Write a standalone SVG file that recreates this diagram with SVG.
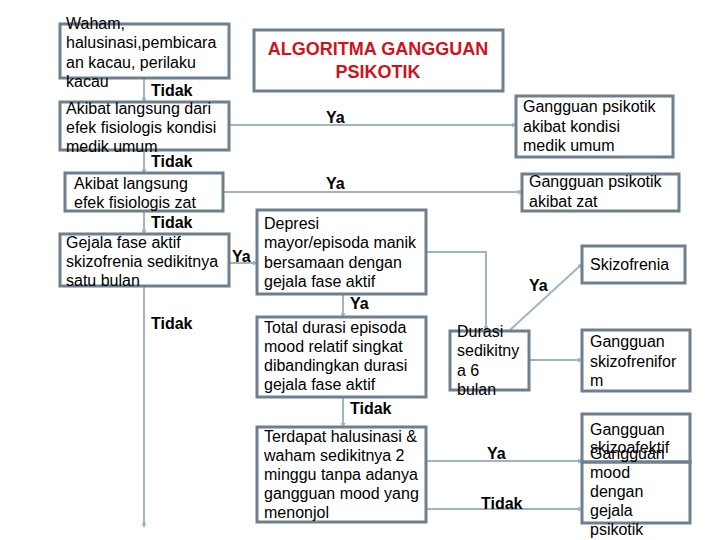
<svg xmlns="http://www.w3.org/2000/svg" width="720" height="540" viewBox="0 0 720 540">
<style>
.box{fill:#fff;stroke:#6f7f8c;stroke-width:3}
.t{font-family:"Liberation Sans",Arial,sans-serif;font-size:16px;fill:#000}
.lb{font-family:"Liberation Sans",Arial,sans-serif;font-size:16px;font-weight:bold;fill:#000}
.ttl{font-family:"Liberation Sans",Arial,sans-serif;font-size:18px;font-weight:bold;fill:#d0121b;text-anchor:middle}
.c{fill:none;stroke:#a0b4c6;stroke-width:2;marker-end:url(#ah)}
</style>
<defs>
<marker id="ah" markerWidth="5" markerHeight="5" refX="4" refY="2.5" orient="auto" markerUnits="userSpaceOnUse">
<path d="M0,0 L5,2.5 L0,5 Z" fill="#a0b4c6"/>
</marker>
</defs>
<rect width="720" height="540" fill="#fff"/>

<g id="connectors">
<line class="c" x1="144" y1="78" x2="144" y2="102"/>
<line class="c" x1="144" y1="150" x2="144" y2="173"/>
<line class="c" x1="144" y1="211" x2="144" y2="234"/>
<line class="c" x1="144" y1="286" x2="144" y2="527"/>
<line class="c" x1="229" y1="263" x2="257" y2="263"/>
<line class="c" x1="229" y1="125" x2="516" y2="125"/>
<line class="c" x1="223" y1="192" x2="522" y2="192"/>
<line class="c" x1="343" y1="294" x2="343" y2="317"/>
<line class="c" x1="343" y1="397" x2="343" y2="427"/>
<polyline class="c" points="426,252 486,252 486,330"/>
<line class="c" x1="510" y1="330" x2="582" y2="264"/>
<line class="c" x1="529" y1="360" x2="582" y2="360"/>
<line class="c" x1="426" y1="461" x2="582" y2="461"/>
<line class="c" x1="426" y1="509" x2="582" y2="509"/>
<text class="lb" x="151" y="96">Tidak</text>
<text class="lb" x="151" y="167">Tidak</text>
<text class="lb" x="151" y="228">Tidak</text>
<text class="lb" x="151" y="329">Tidak</text>
<text class="lb" x="232" y="262">Ya</text>
<text class="lb" x="326" y="123">Ya</text>
<text class="lb" x="326" y="189">Ya</text>
<text class="lb" x="350" y="309">Ya</text>
<text class="lb" x="350" y="414">Tidak</text>
<text class="lb" x="529" y="291">Ya</text>
<text class="lb" x="487" y="459">Ya</text>
<text class="lb" x="481" y="509">Tidak</text>
</g>

<g id="title">
<rect class="box" x="254" y="30" width="249" height="61"/>
<text class="ttl" x="378" y="55">ALGORITMA GANGGUAN</text>
<text class="ttl" x="378" y="78">PSIKOTIK</text>
</g>

<g id="n1">
<rect class="box" x="60" y="24" width="169" height="54"/>
<text class="t" x="66" y="29">Waham,</text>
<text class="t" x="66" y="48">halusinasi,pembicara</text>
<text class="t" x="66" y="68">an kacau, perilaku</text>
<text class="t" x="66" y="87">kacau</text>
</g>

<g id="n2">
<rect class="box" x="60" y="102" width="169" height="48"/>
<text class="t" x="66" y="114">Akibat langsung dari</text>
<text class="t" x="66" y="133">efek fisiologis kondisi</text>
<text class="t" x="66" y="152">medik umum</text>
</g>

<g id="n3">
<rect class="box" x="65" y="173" width="158" height="38"/>
<text class="t" x="74" y="189">Akibat langsung</text>
<text class="t" x="74" y="208">efek fisiologis zat</text>
</g>

<g id="n4">
<rect class="box" x="60" y="234" width="169" height="52"/>
<text class="t" x="66" y="248">Gejala fase aktif</text>
<text class="t" x="66" y="267">skizofrenia sedikitnya</text>
<text class="t" x="66" y="286">satu bulan</text>
</g>

<g id="n5">
<rect class="box" x="257" y="210" width="169" height="84"/>
<text class="t" x="264" y="229">Depresi</text>
<text class="t" x="264" y="248">mayor/episoda manik</text>
<text class="t" x="264" y="268">bersamaan dengan</text>
<text class="t" x="264" y="287">gejala fase aktif</text>
</g>

<g id="n6">
<rect class="box" x="257" y="317" width="169" height="80"/>
<text class="t" x="264" y="333">Total durasi episoda</text>
<text class="t" x="264" y="352">mood relatif singkat</text>
<text class="t" x="264" y="371">dibandingkan durasi</text>
<text class="t" x="264" y="390">gejala fase aktif</text>
</g>

<g id="n7">
<rect class="box" x="257" y="427" width="169" height="95"/>
<text class="t" x="264" y="442">Terdapat halusinasi &amp;</text>
<text class="t" x="264" y="461">waham sedikitnya 2</text>
<text class="t" x="264" y="480">minggu tanpa adanya</text>
<text class="t" x="264" y="499">gangguan mood yang</text>
<text class="t" x="264" y="518">menonjol</text>
</g>

<g id="n8">
<rect class="box" x="516" y="96" width="157" height="61"/>
<text class="t" x="523" y="112">Gangguan psikotik</text>
<text class="t" x="523" y="132">akibat kondisi</text>
<text class="t" x="523" y="151">medik umum</text>
</g>

<g id="n9">
<rect class="box" x="522" y="174" width="157" height="37"/>
<text class="t" x="529" y="187">Gangguan psikotik</text>
<text class="t" x="529" y="207">akibat zat</text>
</g>

<g id="n10">
<rect class="box" x="582" y="246" width="103" height="37"/>
<text class="t" x="590" y="270">Skizofrenia</text>
</g>

<g id="n11">
<rect class="box" x="450" y="331" width="79" height="59"/>
<text class="t" x="457" y="337">Durasi</text>
<text class="t" x="457" y="356">sedikitny</text>
<text class="t" x="457" y="376">a 6</text>
<text class="t" x="457" y="395">bulan</text>
</g>

<g id="n12">
<rect class="box" x="582" y="330" width="108" height="61"/>
<text class="t" x="590" y="347">Gangguan</text>
<text class="t" x="590" y="367">skizofrenifor</text>
<text class="t" x="590" y="386">m</text>
</g>

<g id="n13">
<rect class="box" x="582" y="414" width="108" height="48"/>
<text class="t" x="590" y="435">Gangguan</text>
<text class="t" x="590" y="453">skizoafektif</text>
</g>

<g id="n14">
<rect class="box" x="582" y="462" width="108" height="61" style="fill:none"/>
<text class="t" x="590" y="459">Gangguan</text>
<text class="t" x="590" y="478">mood</text>
<text class="t" x="590" y="497">dengan</text>
<text class="t" x="590" y="516">gejala</text>
<text class="t" x="590" y="535">psikotik</text>
</g>
</svg>
